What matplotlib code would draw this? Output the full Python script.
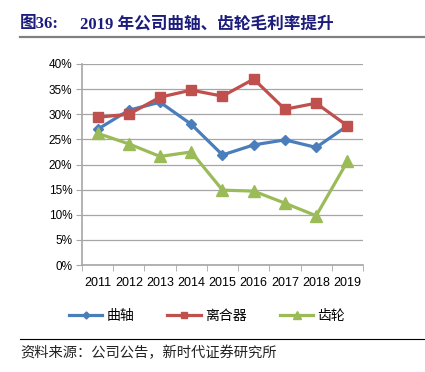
import matplotlib
matplotlib.use('Agg')
import matplotlib.pyplot as plt
from matplotlib.lines import Line2D

plt.rcParams['font.family'] = ['Liberation Sans', 'Noto Sans CJK SC']

years = ['2011', '2012', '2013', '2014', '2015', '2016', '2017', '2018', '2019']
crankshaft = [27.0, 30.8, 32.4, 28.0, 21.9, 23.9, 24.9, 23.4, 27.7]   # 曲轴
clutch = [29.4, 30.0, 33.4, 34.8, 33.6, 37.0, 31.0, 32.2, 27.7]       # 离合器
gear = [26.2, 24.1, 21.6, 22.5, 14.9, 14.7, 12.3, 9.8, 20.6]          # 齿轮
yticks = [0, 5, 10, 15, 20, 25, 30, 35, 40]

blue = '#4A7EBB'
red = '#C0504D'
green = '#9BBB59'
grey = '#A6A6A6'

fig = plt.figure(figsize=(4.25, 3.72), dpi=100)
ax = fig.add_axes([82/425, 1-265/372, (363-82)/425, (265-64)/372])

x = list(range(len(years)))
ax.plot(x, crankshaft, color=blue, lw=2.3, marker='D', ms=5.5, label='曲轴', zorder=3)
ax.plot(x, clutch, color=red, lw=2.3, marker='s', ms=7.5, label='离合器', zorder=3)
ax.plot(x, gear, color=green, lw=2.3, marker='^', ms=8.5, label='齿轮', zorder=3)

ax.set_xlim(-0.5, len(years) - 0.5)
ax.set_ylim(0, 40)
ax.set_yticks(yticks)
ax.set_yticklabels([f'{v}%' for v in yticks], fontsize=8.5)
ax.set_xticks(x)
ax.set_xticklabels(years, fontsize=9)
ax.set_xticks([i + 0.5 for i in range(-1, len(years))], minor=True)
ax.tick_params(axis='x', which='major', length=0, pad=9)
ax.tick_params(axis='x', which='minor', length=4, color=grey, direction='out')
ax.tick_params(axis='y', length=4, color=grey, direction='out', pad=3)
ax.grid(axis='y', color=grey, lw=0.9)
ax.set_axisbelow(True)
for s in ['top', 'right']:
    ax.spines[s].set_visible(False)
for s in ['left', 'bottom']:
    ax.spines[s].set_color(grey)
    ax.spines[s].set_linewidth(1.2)

fig.legend(*ax.get_legend_handles_labels(), loc='center',
           bbox_to_anchor=(207/425, 1-316/372), ncol=3, frameon=False, fontsize=10,
           handlelength=2.4, handletextpad=0.3, columnspacing=2.4, markerscale=0.65)

# title
fig.text(20/425, 1-24/372, '图36:', fontsize=12, fontweight='bold', color='#1C1C7C',
         family=['Liberation Serif', 'Noto Sans CJK SC'], va='center')
fig.text(80/425, 1-24/372, '2019 年公司曲轴、齿轮毛利率提升', fontsize=12, fontweight='bold',
         color='#1C1C7C', family=['Liberation Serif', 'Noto Sans CJK SC'], va='center')
fig.add_artist(Line2D([20/425, 1], [1-37/372, 1-37/372], color='#808080', lw=1.6))

# source
fig.add_artist(Line2D([20/425, 1], [1-339/372, 1-339/372], color='black', lw=0.8))
fig.text(20/425, 1-353/372, '资料来源：公司公告，新时代证券研究所', fontsize=10.3,
         color='#222222', family=['Noto Sans CJK SC'], va='center')

fig.savefig('out.png', dpi=100)
